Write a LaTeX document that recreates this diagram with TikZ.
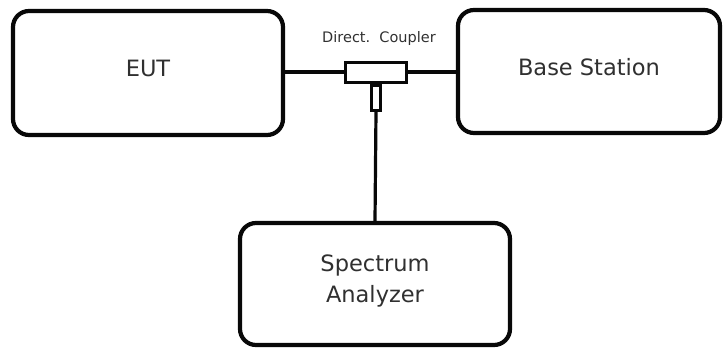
\documentclass[tikz,border=0pt]{standalone}
\usepackage{fontspec}
\setmainfont{DejaVu Sans}
\usetikzlibrary{positioning}
\definecolor{figTrait}{RGB}{8,8,8}
\definecolor{figTexte}{RGB}{48,48,48}
\begin{document}
\begin{tikzpicture}[
  x=1pt, y=-1pt, every node/.style={font=\fontsize{22.5}{27}\selectfont, text=figTexte},
  bloc/.style={draw=figTrait, line width=4.2pt, rounded corners=16pt, align=center,
               fill=white, text depth=10pt},
  coupl/.style={draw=figTrait, line width=3pt, fill=white, inner sep=0pt},
  fil/.style={line width=3.2pt, figTrait}
]
\useasboundingbox (0,0) rectangle (723,349);

\node[bloc, minimum width=270pt, minimum height=124pt] (eut) at (148,73)  {EUT};
\node[bloc, minimum width=262pt, minimum height=123pt] (bs)  at (589,71.5) {Base Station};
\node[bloc, minimum width=270pt, minimum height=122pt] (sa)  at (375,284) {Spectrum\\[4pt]Analyzer};

% coupleur directionnel : corps et sortie couplee
\node[coupl, minimum width=61pt, minimum height=20pt] (coupler) at (376,72) {};
\node[coupl, minimum width=9pt, minimum height=25pt, below=0pt of coupler] (stub) {};
\node[font=\fontsize{14.5}{17}\selectfont] at (379,38) {Direct.\ \ Coupler};

\draw[fil] (eut.east |- coupler.west) -- (coupler.west);
\draw[fil] (coupler.east) -- (bs.west |- coupler.east);
\draw[fil] (stub.south) -- (sa.north);
\end{tikzpicture}
\end{document}
